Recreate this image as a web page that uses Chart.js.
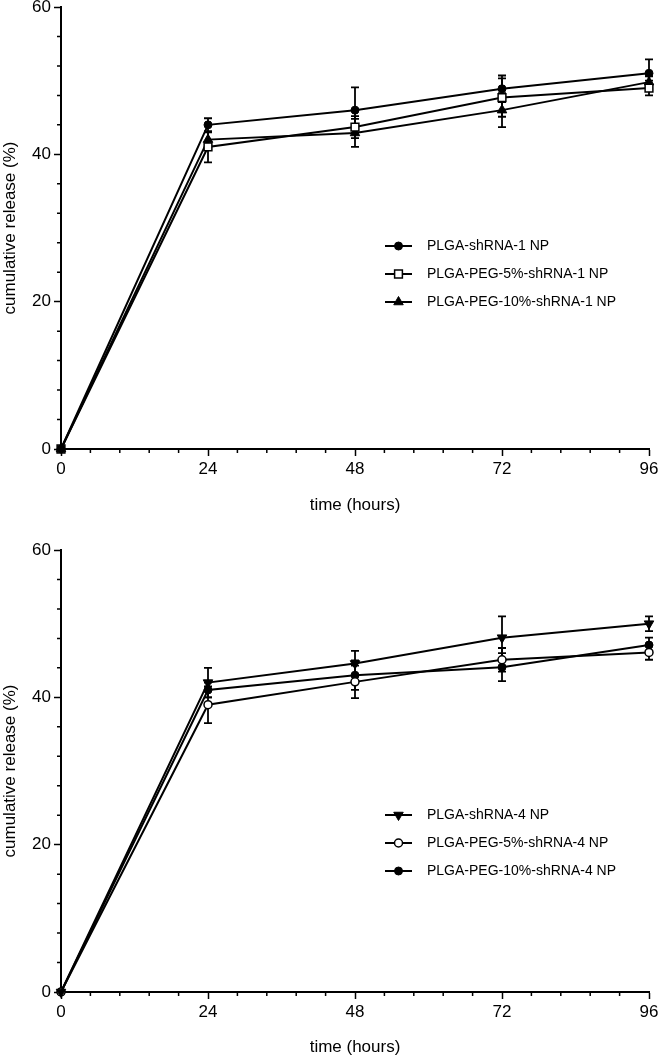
<!DOCTYPE html>
<html>
<head>
<meta charset="utf-8">
<script src="https://cdn.jsdelivr.net/npm/chart.js@4.4.1/dist/chart.umd.min.js"></script>
<style>
    html, body { margin: 0; padding: 0; background: #fff; }
    .panel { position: absolute; left: 0; width: 658px; height: 528px; }
    #top { top: 0; }
    #bottom { top: 528px; }
</style>
</head>
<body>
<div class="panel" id="top"><canvas id="chartTop"></canvas></div>
<div class="panel" id="bottom"><canvas id="chartBottom"></canvas></div>
<script>
// time points (hours) and tick labels
const hours = [0, 24, 48, 72, 96];
const xTickLabels = [0, 24, 48, 72, 96];
const yTickLabels = [0, 20, 40, 60];

// shRNA-1 panel
const labelsTop = ['PLGA-shRNA-1 NP', 'PLGA-PEG-5%-shRNA-1 NP', 'PLGA-PEG-10%-shRNA-1 NP'];
const plga1 = [0, 44, 46, 48.9, 51];
const plga1Err = [0, 0.9, 3.1, 1.8, 1.9];
const peg5_1 = [0, 41, 43.7, 47.7, 49];
const peg5_1Err = [0, 2.1, 1.5, 2.6, 1.0];
const peg10_1 = [0, 42, 42.9, 46, 49.8];
const peg10_1Err = [0, 1.0, 1.9, 2.3, 0.8];

// shRNA-4 panel
const labelsBottom = ['PLGA-shRNA-4 NP', 'PLGA-PEG-5%-shRNA-4 NP', 'PLGA-PEG-10%-shRNA-4 NP'];
const plga4 = [0, 42, 44.6, 48.1, 50];
const plga4Err = [0, 2.0, 1.7, 2.9, 1.0];
const peg5_4 = [0, 39, 42.1, 45.1, 46.1];
const peg5_4Err = [0, 2.5, 2.2, 1.6, 1.0];
const peg10_4 = [0, 41, 43, 44.1, 47.1];
const peg10_4Err = [0, 1.0, 2.0, 1.9, 1.0];

Chart.defaults.font.family = '"Liberation Sans", Arial, sans-serif';
Chart.defaults.color = '#000';

function series(label, values, errors, style) {
    return Object.assign({
        label: label,
        data: hours.map((h, i) => ({ x: h, y: values[i] })),
        errors: errors,
        borderColor: '#000',
        borderWidth: 2,
        backgroundColor: '#000',
        pointBorderColor: '#000',
        pointBorderWidth: 1,
        tension: 0,
        clip: false
    }, style);
}

function isMajor(v, list) {
    return list.some(t => Math.abs(t - v) < 1e-6);
}

// error bars, drawn under the markers
const errorBars = {
    id: 'errorBars',
    beforeDatasetsDraw(chart) {
        const ctx = chart.ctx;
        const yScale = chart.scales.y;
        ctx.save();
        ctx.strokeStyle = '#000';
        ctx.lineWidth = 1.8;
        chart.data.datasets.forEach((ds, di) => {
            const meta = chart.getDatasetMeta(di);
            meta.data.forEach((pt, i) => {
                const err = ds.errors[i];
                if (!err) return;
                const v = ds.data[i].y;
                const yTop = yScale.getPixelForValue(v + err);
                const yBot = yScale.getPixelForValue(v - err);
                ctx.beginPath();
                ctx.moveTo(pt.x, yTop);
                ctx.lineTo(pt.x, yBot);
                ctx.moveTo(pt.x - 4, yTop);
                ctx.lineTo(pt.x + 4, yTop);
                ctx.moveTo(pt.x - 4, yBot);
                ctx.lineTo(pt.x + 4, yBot);
                ctx.stroke();
            });
        });
        ctx.restore();
    }
};

// short minor ticks (major ones come from the grid options)
const minorTicks = {
    id: 'minorTicks',
    afterDraw(chart) {
        const ctx = chart.ctx;
        const xs = chart.scales.x, ys = chart.scales.y;
        ctx.save();
        ctx.strokeStyle = '#000';
        ctx.lineWidth = 1.5;
        ctx.beginPath();
        xs.ticks.forEach(t => {
            if (isMajor(t.value, xTickLabels)) return;
            const px = xs.getPixelForValue(t.value);
            ctx.moveTo(px, xs.top);
            ctx.lineTo(px, xs.top + 4);
        });
        ys.ticks.forEach(t => {
            if (isMajor(t.value, yTickLabels)) return;
            const py = ys.getPixelForValue(t.value);
            ctx.moveTo(ys.right, py);
            ctx.lineTo(ys.right - 4, py);
        });
        ctx.stroke();
        ctx.restore();
    }
};

// legend with line + marker inside the plot
const innerLegend = {
    id: 'innerLegend',
    afterDraw(chart, args, opts) {
        const ctx = chart.ctx;
        ctx.save();
        chart.data.datasets.forEach((ds, i) => {
            const y = opts.y + i * 28;
            ctx.strokeStyle = '#000';
            ctx.lineWidth = 2;
            ctx.beginPath();
            ctx.moveTo(385, y);
            ctx.lineTo(412, y);
            ctx.stroke();
            ctx.fillStyle = ds.backgroundColor;
            ctx.strokeStyle = '#000';
            ctx.lineWidth = ds.pointBorderWidth;
            Chart.helpers.drawPoint(ctx, {
                pointStyle: ds.pointStyle,
                radius: ds.pointRadius,
                rotation: ds.pointRotation || 0,
                borderWidth: ds.pointBorderWidth
            }, 398.5, y);
            ctx.fillStyle = '#000';
            ctx.font = '14px "Liberation Sans", Arial, sans-serif';
            ctx.textBaseline = 'middle';
            ctx.textAlign = 'left';
            ctx.fillText(ds.label, 427, y);
        });
        ctx.restore();
    }
};

function makeChart(id, datasets, padTop, xHeight, titleBottom, legendY) {
    const ctx = document.getElementById(id).getContext('2d');
    return new Chart(ctx, {
        type: 'line',
        data: { datasets: datasets },
        options: {
            responsive: true,
            maintainAspectRatio: false,
            animation: false,
            layout: { padding: { top: padTop, right: 9, left: 0, bottom: 0 } },
            plugins: {
                legend: { display: false },
                tooltip: { enabled: false },
                innerLegend: { y: legendY }
            },
            scales: {
                x: {
                    type: 'linear',
                    min: 0,
                    max: 96,
                    afterFit(scale) {
                        scale.height = xHeight;
                        scale.paddingLeft = 0;
                        scale.paddingRight = 0;
                    },
                    ticks: {
                        stepSize: 4.8,
                        autoSkip: false,
                        maxRotation: 0,
                        padding: 3,
                        font: { size: 17 },
                        callback: v => isMajor(v, xTickLabels) ? String(Math.round(v)) : ''
                    },
                    grid: {
                        drawOnChartArea: false,
                        tickLength: 7,
                        tickColor: c => isMajor(c.tick.value, xTickLabels) ? '#000' : 'rgba(0,0,0,0)',
                        tickWidth: 1.5
                    },
                    border: { color: '#000', width: 2 },
                    title: {
                        display: true,
                        text: 'time (hours)',
                        font: { size: 17, lineHeight: 1 },
                        padding: { top: 0, bottom: titleBottom }
                    }
                },
                y: {
                    min: 0,
                    max: 60,
                    afterFit(scale) {
                        scale.width = 61;
                        scale.paddingTop = 0;
                        scale.paddingBottom = 0;
                    },
                    ticks: {
                        stepSize: 4,
                        autoSkip: false,
                        padding: 3,
                        font: { size: 17 },
                        callback: v => isMajor(v, yTickLabels) ? String(Math.round(v)) : ''
                    },
                    grid: {
                        drawOnChartArea: false,
                        tickLength: 7,
                        tickColor: c => isMajor(c.tick.value, yTickLabels) ? '#000' : 'rgba(0,0,0,0)',
                        tickWidth: 1.5
                    },
                    border: { color: '#000', width: 2 },
                    title: {
                        display: true,
                        text: 'cumulative release (%)',
                        font: { size: 17, lineHeight: 1 },
                        padding: { top: 2, bottom: 0 }
                    }
                }
            }
        },
        plugins: [errorBars, minorTicks, innerLegend]
    });
}

makeChart('chartTop', [
    series(labelsTop[0], plga1, plga1Err, { pointStyle: 'circle', pointRadius: 4 }),
    series(labelsTop[1], peg5_1, peg5_1Err, { pointStyle: 'rect', pointRadius: 5.5, backgroundColor: '#fff', pointBorderWidth: 1.5 }),
    series(labelsTop[2], peg10_1, peg10_1Err, { pointStyle: 'triangle', pointRadius: 5.5 })
], 7, 79, 14.5, 246);

makeChart('chartBottom', [
    series(labelsBottom[0], plga4, plga4Err, { pointStyle: 'triangle', pointRadius: 5.5, pointRotation: 180 }),
    series(labelsBottom[1], peg5_4, peg5_4Err, { pointStyle: 'circle', pointRadius: 4, backgroundColor: '#fff', pointBorderWidth: 1.5 }),
    series(labelsBottom[2], peg10_4, peg10_4Err, { pointStyle: 'circle', pointRadius: 4 })
], 22, 64, 0, 287);
</script>
</body>
</html>
